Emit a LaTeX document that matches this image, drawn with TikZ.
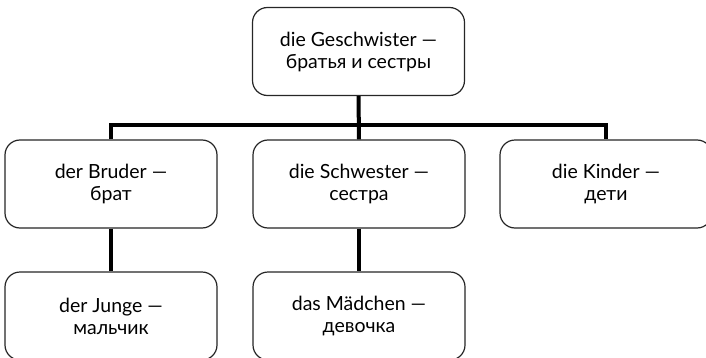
\documentclass[tikz,border=0pt]{standalone}
\usepackage{fontspec}
\setmainfont{Lato}
\usepackage{tikz}
\usetikzlibrary{calc, positioning}

\begin{document}
\begin{tikzpicture}[
        x=1pt, y=1pt,
        wordbox/.style={rectangle, draw=black!85, line width=1.2pt, rounded corners=15pt, fill=white, minimum width=212pt, minimum height=88pt, font=\fontsize{19.5}{22}\selectfont, align=center, inner sep=0pt},
        link/.style={line width=4pt, black}
    ]
        \useasboundingbox (0,0) rectangle (706,357);
        \node[wordbox] (geschw) at (358.5,305.5) {die Geschwister ---\\братья и сестры};
        \node[wordbox] (bruder) at (111,173) {der Bruder ---\\брат};
        \node[wordbox] (schwester) at (359,173) {die Schwester ---\\сестра};
        \node[wordbox] (kinder) at (606,173) {die Kinder ---\\дети};
        \node[wordbox] (junge) at (111,41) {der Junge ---\\мальчик};
        \node[wordbox] (maedchen) at (359,41) {das Mädchen ---\\девочка};
        \coordinate (bar) at (359,232);

        \draw[link] (geschw.south) -- (schwester.north);
        \draw[link] (bruder.north) |- (bar) -| (kinder.north);
        \draw[link] (bruder.south) -- (junge.north);
        \draw[link] (schwester.south) -- (maedchen.north);
    \end{tikzpicture}
\end{document}
